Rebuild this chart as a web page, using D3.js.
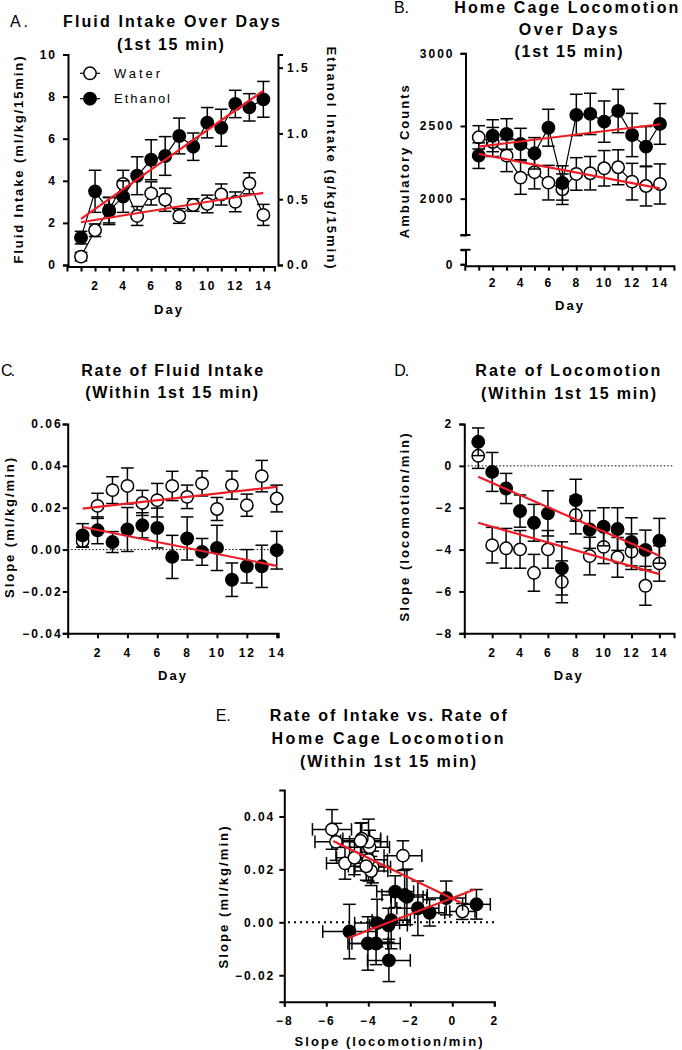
<!DOCTYPE html>
<html><head><meta charset="utf-8">
<script src="https://cdn.jsdelivr.net/npm/d3@7"></script>
<style>body{margin:0;background:#fff} svg{display:block}</style>
</head><body>
<svg id="chart" width="682" height="1050"></svg>
<script>
// ---------- DATA ----------
const days = [1,2,3,4,5,6,7,8,9,10,11,12,13,14];
const evenDays = [2,4,6,8,10,12,14];
const seriesNames = ["Water","Ethanol"];

// A. Fluid intake (ml/kg/15min)
const fluidWater = [0.4,1.65,2.6,3.85,2.33,3.4,3.1,2.33,2.85,2.9,3.35,3.0,3.88,2.38];
const fluidWaterErr = [0.2,0.3,0.6,0.65,0.45,0.55,0.55,0.35,0.3,0.42,0.5,0.47,0.5,0.5];
const fluidEthanol = [1.3,3.5,2.57,3.25,4.24,5.0,5.18,6.13,5.62,6.76,6.52,7.65,7.49,7.87];
const fluidEthanolErr = [0.3,1.0,0.65,0.75,0.9,0.95,0.92,0.85,0.65,0.72,0.88,0.65,0.65,0.85];
const fluidFitWater = [[1,2.03],[14,3.43]];
const fluidFitEthanol = [[1,2.19],[14,8.28]];
const fluidTicks = [0,2,4,6,8,10];
const ethanolTicks = [0,0.5,1.0,1.5];

// B. Ambulatory counts
const locoWater = [2422,2390,2296,2145,2182,2110,2065,2170,2175,2209,2216,2117,2087,2101];
const locoWaterErr = [80,100,110,115,115,119,105,112,115,122,120,126,137,138];
const locoEthanol = [2296,2433,2445,2376,2312,2488,2108,2576,2583,2530,2603,2438,2358,2514];
const locoEthanolErr = [88,110,105,108,108,127,118,142,142,142,149,149,138,140];
const locoFitWater = [[1,2307],[14,2071]];
const locoFitEthanol = [[1,2358],[14,2512]];
const locoTicks = [2000,2500,3000];

// C. Rate of fluid intake (ml/kg/min)
const rateIntakeWater = [0.0041,0.0209,0.0284,0.0304,0.0223,0.0236,0.0304,0.0252,0.0316,0.0194,0.0308,0.0212,0.0351,0.0244];
const rateIntakeWaterErr = [0.003,0.006,0.0064,0.0086,0.006,0.008,0.007,0.0056,0.006,0.0055,0.0067,0.0053,0.0075,0.0064];
const rateIntakeEthanol = [0.0068,0.0092,0.0036,0.0096,0.0116,0.0103,-0.0035,0.0053,-0.0011,0.0008,-0.0144,-0.008,-0.008,-0.0003];
const rateIntakeEthanolErr = [0.0056,0.0064,0.005,0.0105,0.006,0.0095,0.0103,0.0103,0.0064,0.0108,0.008,0.008,0.0101,0.009];
const rateIntakeFitWater = [[1,0.0196],[14,0.030]];
const rateIntakeFitEthanol = [[1,0.0108],[14,-0.0078]];
const rateIntakeTicks = [-0.04,-0.02,0,0.02,0.04,0.06];

// D. Rate of locomotion (locomotion/min)
const rateLocoWater = [0.48,-3.79,-3.94,-3.99,-5.11,-3.99,-5.54,-2.35,-4.31,-3.87,-4.37,-4.1,-5.73,-4.66];
const rateLocoWaterErr = [0.6,0.85,0.95,0.9,0.88,0.9,1.0,0.9,0.9,0.8,0.95,0.85,0.93,0.85];
const rateLocoEthanol = [1.15,-0.29,-1.08,-2.16,-2.72,-2.27,-4.9,-1.64,-3.04,-2.91,-3.02,-3.63,-4.02,-3.58];
const rateLocoEthanolErr = [0.66,0.93,0.72,0.77,0.88,1.08,1.27,1.0,0.9,0.91,1.02,1.15,0.95,1.07];
const rateLocoFitWater = [[1,-2.72],[14,-5.17]];
const rateLocoFitEthanol = [[1,-0.525],[14,-4.3]];
const rateLocoTicks = [-8,-6,-4,-2,0,2];

// E. correlation fits
const corrFitWater = [[-5.67,0.0307],[0.43,0.0073]];
const corrFitEthanol = [[-4.96,-0.0059],[1.06,0.0124]];
const corrXTicks = [-8,-6,-4,-2,0,2];
const corrYTicks = [-0.02,0,0.02,0.04];

// ---------- STYLE ----------
const FONT = "'Liberation Sans', Arial, sans-serif";
const RED = "#ee1c24";
const R = 6.2, CAP = 6.3;
const svg = d3.select("#chart");

function txt(x, y, s, o = {}) {
  const size = o.size || 13;
  const g = svg.append("g").attr("transform", `translate(${x},${y})` + (o.rot ? ` rotate(${o.rot})` : ""));
  const t = g.append("text").text(s)
    .attr("x", 0).attr("y", size * 0.36)
    .attr("font-family", FONT).attr("font-size", size)
    .attr("font-weight", o.weight || "bold")
    .attr("text-anchor", o.anchor || "middle").attr("fill", "#000");
  if (o.len) t.attr("textLength", o.len).attr("lengthAdjust", "spacing");
  return t;
}

function styleAxis(g) {
  g.select(".domain").attr("stroke", "#000").attr("stroke-width", 2);
  g.selectAll(".tick line").attr("stroke", "#000").attr("stroke-width", 2);
  g.selectAll(".tick text").attr("font-family", FONT).attr("font-weight", "bold")
    .attr("font-size", 12).attr("letter-spacing", 2).attr("fill", "#000");
}

function vErr(g, x, y, vals, errs) {
  const gg = g.append("g").attr("stroke", "#000").attr("stroke-width", 1.5).attr("fill", "none");
  days.forEach((d, i) => {
    const cx = x(d), y1 = y(vals[i] + errs[i]), y2 = y(vals[i] - errs[i]);
    gg.append("line").attr("x1", cx).attr("x2", cx).attr("y1", y1).attr("y2", y2);
    gg.append("line").attr("x1", cx - CAP).attr("x2", cx + CAP).attr("y1", y1).attr("y2", y1);
    gg.append("line").attr("x1", cx - CAP).attr("x2", cx + CAP).attr("y1", y2).attr("y2", y2);
  });
}
function dots(g, xs, ys, filled) {
  g.append("g").selectAll("circle").data(xs).join("circle")
    .attr("cx", (d, i) => xs[i]).attr("cy", (d, i) => ys[i]).attr("r", R)
    .attr("fill", filled ? "#000" : "#fff").attr("stroke", "#000").attr("stroke-width", 1.5);
}
function connect(g, x, y, vals) {
  g.append("path").datum(vals).attr("fill", "none").attr("stroke", "#000").attr("stroke-width", 1.2)
    .attr("d", d3.line().x((d, i) => x(days[i])).y(d => y(d)));
}
function fit(g, x, y, pts) {
  g.append("path").datum(pts).attr("fill", "none").attr("stroke", RED).attr("stroke-width", 2.2)
    .attr("d", d3.line().x(d => x(d[0])).y(d => y(d[1])));
}
function dotted(g, x1, x2, yy, w, dash) {
  g.append("line").attr("x1", x1).attr("x2", x2).attr("y1", yy).attr("y2", yy)
    .attr("stroke", "#000").attr("stroke-width", w).attr("stroke-dasharray", dash);
}
function series(g, x, y, w, we, e, ee, line) {
  const gw = g.append("g"), ge = g.append("g");
  vErr(gw, x, y, w, we);
  if (line) connect(gw, x, y, w);
  dots(gw, days.map(x), w.map(y), false);
  vErr(ge, x, y, e, ee);
  if (line) connect(ge, x, y, e);
  dots(ge, days.map(x), e.map(y), true);
}

// ---------- PANEL A ----------
{
  const g = svg.append("g");
  const x = d3.scaleLinear().domain([0, 14.8]).range([67, 274.6]);
  const y = d3.scaleLinear().domain([0, 10]).range([265, 54.5]);
  const y2 = d3.scaleLinear().domain([0, 1.6]).range([265, 54.5]);
  g.append("g").attr("transform", `translate(${x(0)+1},0)`)
    .call(d3.axisLeft(y).tickValues(fluidTicks).tickSizeOuter(0).tickSize(5).tickPadding(6)).call(styleAxis);
  g.append("g").attr("transform", `translate(278,0)`)
    .call(d3.axisRight(y2).tickValues(ethanolTicks).tickFormat(d3.format(".1f")).tickSizeOuter(0).tickSize(5).tickPadding(4)).call(styleAxis);
  g.append("g").attr("transform", `translate(0,${y(0)+1.5})`)
    .call(d3.axisBottom(x).tickValues(days).tickFormat(d => d % 2 === 0 ? d : "").tickSizeOuter(0).tickSize(5).tickPadding(10)).call(styleAxis);
  series(g, x, y, fluidWater, fluidWaterErr, fluidEthanol, fluidEthanolErr, true);
  fit(g, x, y, fluidFitWater);
  fit(g, x, y, fluidFitEthanol);
  // legend
  [[73.3, false, seriesNames[0], 46], [98.7, true, seriesNames[1], 56]].forEach(([ly, f, name, len]) => {
    g.append("line").attr("x1", 80).attr("x2", 100).attr("y1", ly).attr("y2", ly).attr("stroke", "#000").attr("stroke-width", 1.2);
    g.append("circle").attr("cx", 90).attr("cy", ly).attr("r", R).attr("fill", f ? "#000" : "#fff").attr("stroke", "#000").attr("stroke-width", 1.5);
    txt(114, ly, name, {anchor: "start", weight: "normal", size: 13, len: len});
  });
  txt(10, 21, "A.", {anchor: "start", weight: "normal", size: 16, len: 18});
  txt(171.5, 21, "Fluid Intake Over Days", {size: 16, len: 217});
  txt(170.4, 44.3, "(1st 15 min)", {size: 16, len: 107});
  txt(18.3, 160, "Fluid Intake (ml/kg/15min)", {rot: -90, len: 207});
  txt(332, 157.5, "Ethanol Intake (g/kg/15min)", {rot: 90, len: 222});
  txt(168, 309, "Day", {len: 28});
}

// ---------- PANEL B ----------
{
  const g = svg.append("g");
  const x = d3.scaleLinear().domain([0, 15]).range([464.8, 673.9]);
  const y = d3.scaleLinear().domain([1750, 3000]).range([235, 53.3]);
  const yLow = d3.scaleLinear().domain([0, 100]).range([264.3, 249.8]);
  const ax = 465.5;
  g.append("g").attr("transform", `translate(${ax},0)`)
    .call(d3.axisLeft(y).tickValues(locoTicks).tickFormat(d3.format("d")).tickSizeOuter(0).tickSize(5).tickPadding(6)).call(styleAxis);
  g.append("g").attr("transform", `translate(${ax},0)`)
    .call(d3.axisLeft(yLow).tickValues([0]).tickFormat(d3.format("d")).tickSizeOuter(0).tickSize(5).tickPadding(6)).call(styleAxis);
  [235, 249.8].forEach(by => g.append("line").attr("x1", ax - 5).attr("x2", ax + 5).attr("y1", by).attr("y2", by).attr("stroke", "#000").attr("stroke-width", 2));
  g.append("g").attr("transform", `translate(0,265.7)`)
    .call(d3.axisBottom(x).tickValues(days).tickFormat(d => d % 2 === 0 ? d : "").tickSizeOuter(0).tickSize(5).tickPadding(8)).call(styleAxis);
  series(g, x, y, locoWater, locoWaterErr, locoEthanol, locoEthanolErr, true);
  fit(g, x, y, locoFitWater);
  fit(g, x, y, locoFitEthanol);
  txt(394, 7.3, "B.", {anchor: "start", weight: "normal", size: 16, len: 15});
  txt(566.3, 7.3, "Home Cage Locomotion", {size: 16, len: 224});
  txt(568.2, 29.3, "Over Days", {size: 16, len: 99});
  txt(568.5, 51.7, "(1st 15 min)", {size: 16, len: 108});
  txt(404, 161.7, "Ambulatory Counts", {rot: -90, len: 153});
  txt(569, 305, "Day", {len: 28});
}

// ---------- PANEL C ----------
{
  const g = svg.append("g");
  const x = d3.scaleLinear().domain([0, 14.1]).range([67.7, 278.2]);
  const y = d3.scaleLinear().domain([-0.04, 0.06]).range([633.3, 424]);
  dotted(g, x(0), 278, y(0), 1, "1.5,2");
  g.append("g").attr("transform", `translate(${x(0)},0)`)
    .call(d3.axisLeft(y).tickValues(rateIntakeTicks).tickFormat(d3.format(".2f")).tickSizeOuter(0).tickSize(5).tickPadding(0)).call(styleAxis);
  g.append("g").attr("transform", `translate(0,633.3)`)
    .call(d3.axisBottom(x).tickValues(evenDays).tickSizeOuter(0).tickSize(5).tickPadding(10)).call(styleAxis);
  series(g, x, y, rateIntakeWater, rateIntakeWaterErr, rateIntakeEthanol, rateIntakeEthanolErr, false);
  fit(g, x, y, rateIntakeFitWater);
  fit(g, x, y, rateIntakeFitEthanol);
  txt(1, 370, "C.", {anchor: "start", weight: "normal", size: 16, len: 14});
  txt(172.2, 370, "Rate of Fluid Intake", {size: 16, len: 182});
  txt(171.7, 392.7, "(Within 1st 15 min)", {size: 16, len: 173});
  txt(9.8, 528, "Slope (ml/kg/min)", {rot: -90, len: 140});
  txt(172, 675, "Day", {len: 28});
}

// ---------- PANEL D ----------
{
  const g = svg.append("g");
  const x = d3.scaleLinear().domain([0, 15.05]).range([464.3, 674]);
  const y = d3.scaleLinear().domain([-8, 2]).range([633.3, 424]);
  dotted(g, x(0), 674, y(0), 1, "1.5,2");
  g.append("g").attr("transform", `translate(${x(0)},0)`)
    .call(d3.axisLeft(y).tickValues(rateLocoTicks).tickSizeOuter(0).tickSize(5).tickPadding(6)).call(styleAxis);
  g.append("g").attr("transform", `translate(0,633.3)`)
    .call(d3.axisBottom(x).tickValues(evenDays).tickSizeOuter(0).tickSize(5).tickPadding(10)).call(styleAxis);
  series(g, x, y, rateLocoWater, rateLocoWaterErr, rateLocoEthanol, rateLocoEthanolErr, false);
  fit(g, x, y, rateLocoFitWater);
  fit(g, x, y, rateLocoFitEthanol);
  txt(394.3, 370.7, "D.", {anchor: "start", weight: "normal", size: 16, len: 15});
  txt(567.8, 370.7, "Rate of Locomotion", {size: 16, len: 185});
  txt(568.5, 393.3, "(Within 1st 15 min)", {size: 16, len: 175});
  txt(404.3, 527.5, "Slope (locomotion/min)", {rot: -90, len: 188});
  txt(567.7, 675, "Day", {len: 28});
}

// ---------- PANEL E ----------
{
  const g = svg.append("g");
  const x = d3.scaleLinear().domain([-8, 2]).range([284.3, 494.3]);
  const y = d3.scaleLinear().domain([-0.03, 0.05]).range([1001.7, 790]);
  dotted(g, 288, 494, y(0), 2, "2,4");
  g.append("g").attr("transform", `translate(284.3,0)`)
    .call(d3.axisLeft(y).tickValues(corrYTicks).tickFormat(d3.format(".2f")).tickSizeOuter(0).tickSize(5).tickPadding(4)).call(styleAxis);
  g.append("g").attr("transform", `translate(0,1001.7)`)
    .call(d3.axisBottom(x).tickValues(corrXTicks).tickSizeOuter(0).tickSize(5).tickPadding(10)).call(styleAxis);
  function groupE(xv, xe, yv, ye, filled) {
    const gg = g.append("g");
    const eb = gg.append("g").attr("stroke", "#000").attr("stroke-width", 1.5);
    days.forEach((d, i) => {
      const cx = x(xv[i]), cy = y(yv[i]);
      const xl = x(xv[i] - xe[i]), xr = x(xv[i] + xe[i]);
      const yt = y(yv[i] + ye[i]), yb = y(yv[i] - ye[i]);
      eb.append("line").attr("x1", xl).attr("x2", xr).attr("y1", cy).attr("y2", cy);
      eb.append("line").attr("x1", xl).attr("x2", xl).attr("y1", cy - CAP).attr("y2", cy + CAP);
      eb.append("line").attr("x1", xr).attr("x2", xr).attr("y1", cy - CAP).attr("y2", cy + CAP);
      eb.append("line").attr("x1", cx).attr("x2", cx).attr("y1", yt).attr("y2", yb);
      eb.append("line").attr("x1", cx - CAP).attr("x2", cx + CAP).attr("y1", yt).attr("y2", yt);
      eb.append("line").attr("x1", cx - CAP).attr("x2", cx + CAP).attr("y1", yb).attr("y2", yb);
    });
    dots(gg, xv.map(x), yv.map(y), filled);
  }
  groupE(rateLocoWater, rateLocoWaterErr, rateIntakeWater, rateIntakeWaterErr, false);
  groupE(rateLocoEthanol, rateLocoEthanolErr, rateIntakeEthanol, rateIntakeEthanolErr, true);
  fit(g, x, y, corrFitWater);
  fit(g, x, y, corrFitEthanol);
  txt(215.7, 715, "E.", {anchor: "start", weight: "normal", size: 16, len: 15});
  txt(388.3, 715, "Rate of Intake vs. Rate of", {size: 16, len: 237});
  txt(387.5, 738.3, "Home Cage Locomotion", {size: 16, len: 232});
  txt(388, 761.7, "(Within 1st 15 min)", {size: 16, len: 176});
  txt(223.3, 897.5, "Slope (ml/kg/min)", {rot: -90, len: 142});
  txt(388.5, 1041.7, "Slope (locomotion/min)", {len: 188});
}
</script>
</body></html>
